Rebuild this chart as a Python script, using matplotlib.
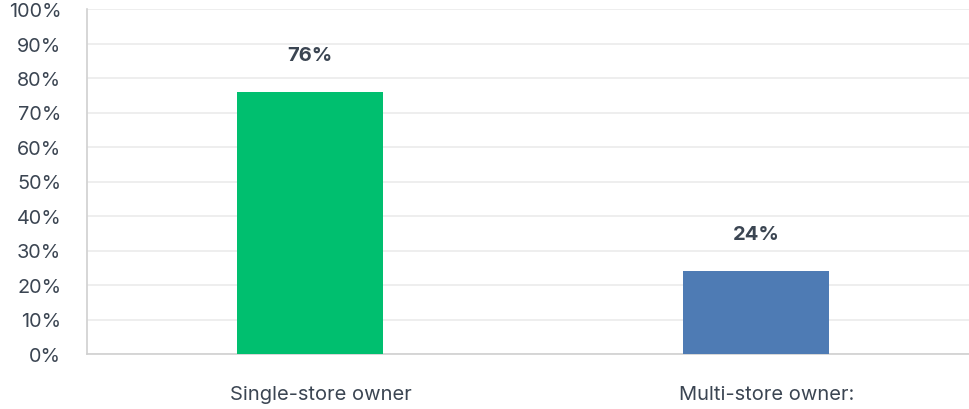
import matplotlib
matplotlib.use("Agg")
import matplotlib.pyplot as plt
import matplotlib.transforms as mtransforms
import numpy as np

categories = ["Single-store owner", "Multi-store owner:"]
values = [76, 24]
labels = ["76%", "24%"]
colors = ["#00bf6f", "#4e7bb4"]
yticks = [0, 10, 20, 30, 40, 50, 60, 70, 80, 90, 100]

plt.rcParams['font.family'] = ['Inter', 'DejaVu Sans']
txt = "#3b4552"

fig = plt.figure(figsize=(9.7, 4.1), dpi=100)
# axes pixel coords: left 87, right 979, bottom y=355, top y=10
W, H = 970, 410
ax = fig.add_axes([87 / W, (H - 355) / H, (979 - 87) / W, (355 - 10) / H])
x = np.arange(len(categories))
ax.bar(x, values, width=0.327, color=colors, zorder=3)
ax.set_xlim(-0.5, 1.5)
ax.set_ylim(0, 100)
ax.set_yticks(yticks)
ax.set_yticklabels([f"{v}%" for v in yticks])
ax.set_xticks(x)
ax.set_xticklabels(categories)
ax.grid(axis='y', color='#ebebeb', linewidth=1.2, zorder=0)
for s in ['top', 'right']:
    ax.spines[s].set_visible(False)
for s in ['left', 'bottom']:
    ax.spines[s].set_color('#d0d0d0')
    ax.spines[s].set_linewidth(1.2)
ax.tick_params(axis='y', length=0, pad=18.5, labelsize=14.3, labelcolor=txt)
ax.tick_params(axis='x', length=0, pad=22, labelsize=14.5, labelcolor=txt)
shift = mtransforms.ScaledTranslation(11 / 100, 0, fig.dpi_scale_trans)
for lbl in ax.get_xticklabels():
    lbl.set_transform(lbl.get_transform() + shift)
for xi, v, lab in zip(x, values, labels):
    ax.annotate(lab, (xi, v), xytext=(0, 37), textcoords='offset pixels',
                ha='center', va='center', fontsize=14.5, fontweight='bold', color=txt)
fig.savefig("out.png", dpi=100)
